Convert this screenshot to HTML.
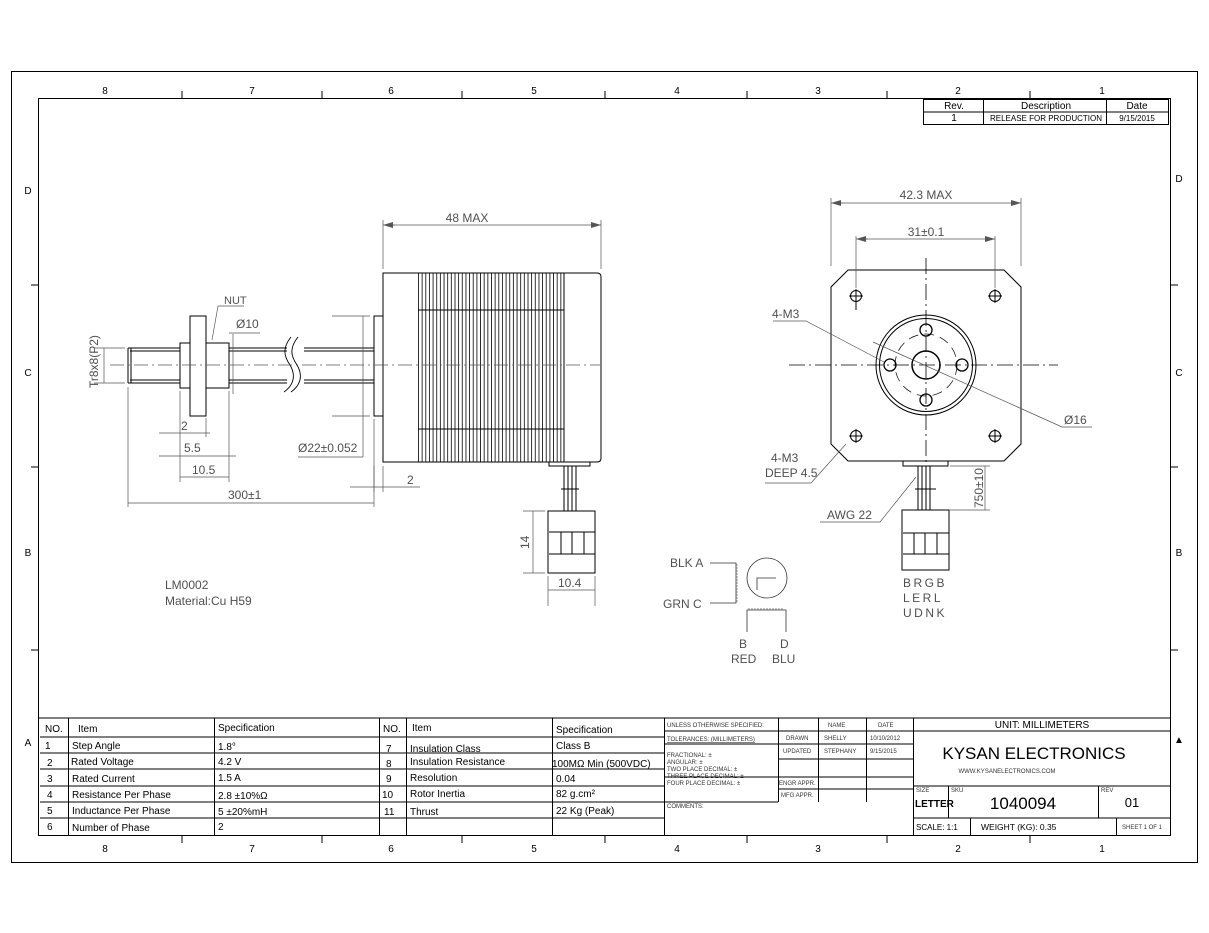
<!DOCTYPE html>
<html><head><meta charset="utf-8"><style>
html,body{margin:0;padding:0;background:#fff;}
svg{display:block;font-family:"Liberation Sans",sans-serif;}
.d{fill:#505050;font-size:12px;}
.t{fill:#000;font-size:10px;}
.s{fill:#333;font-size:6px;}
</style></head><body>
<svg width="1209" height="933" viewBox="0 0 1209 933" xmlns="http://www.w3.org/2000/svg">
<defs>
<pattern id="fin" patternUnits="userSpaceOnUse" width="3.65" height="10" x="418"><line x1="0.5" y1="0" x2="0.5" y2="10" stroke="#000" stroke-width="0.8"/></pattern>
<marker id="ar" markerWidth="10" markerHeight="6" refX="10" refY="3" orient="auto" markerUnits="userSpaceOnUse"><path d="M0,0 L10,3 L0,6z" fill="#555"/></marker>
</defs>
<rect width="1209" height="933" fill="#fff"/>
<g fill="none" stroke="#000">
<rect x="11.5" y="71.5" width="1186" height="791"/>
<rect x="38.5" y="98.5" width="1132" height="737"/>
<g stroke-width="1">
<path d="M182 91V98M322 91V98M462 91V98M605 91V98M747 91V98M887 91V98M1030 91V98"/>
<path d="M182 836V843M322 836V843M462 836V843M605 836V843M747 836V843M887 836V843M1030 836V843"/>
<path d="M31 285H38M31 467H38M31 650H38M1171 285H1178M1171 467H1178M1171 650H1178"/>
</g>
<rect x="923.5" y="99.5" width="245" height="25"/>
<path d="M923 112H1168M983.5 99V124M1106.5 99V124"/>
</g>
<g class="t" text-anchor="middle" font-size="11">
<text x="105" y="94">8</text><text x="252" y="94">7</text><text x="391" y="94">6</text><text x="534" y="94">5</text><text x="677" y="94">4</text><text x="818" y="94">3</text><text x="958" y="94">2</text><text x="1102" y="94">1</text>
<text x="105" y="852">8</text><text x="252" y="852">7</text><text x="391" y="852">6</text><text x="534" y="852">5</text><text x="677" y="852">4</text><text x="818" y="852">3</text><text x="958" y="852">2</text><text x="1102" y="852">1</text>
<text x="28" y="194">D</text><text x="28" y="376">C</text><text x="28" y="556">B</text><text x="28" y="746">A</text>
<text x="1179" y="182">D</text><text x="1179" y="376">C</text><text x="1179" y="556">B</text><text x="1179" y="743">▲</text>
</g>
<g class="t" font-size="8.5" text-anchor="middle" fill="#222">
<text x="954" y="109">Rev.</text><text x="1046" y="109">Description</text><text x="1137" y="109">Date</text>
<text x="954" y="121">1</text><text x="1046" y="121" font-size="8">RELEASE FOR PRODUCTION</text><text x="1137" y="121" font-size="8">9/15/2015</text>
</g>

<!-- SIDE VIEW -->
<g fill="none" stroke="#000" stroke-width="1">
<path d="M383 273H597Q601 273 601 277V458Q601 462 597 462H383Z"/>
<rect x="418" y="273" width="146" height="189" fill="url(#fin)" stroke="none"/>
<path d="M564 273V462M418 310H564M418 429H564"/>
<rect x="374" y="316" width="9" height="100"/>
<path d="M128 348H287M304 348H374M128 383H287M304 383H374M130 351H287M304 351H374M130 380H287M304 380H374M128 348V383M131 348V383"/>
<path d="M291 337C283 347 283 355 290 365C296 375 294 385 284 392M298 337C290 347 290 355 297 365C303 375 301 385 291 392" stroke-width="0.9"/>
<rect x="180" y="343" width="49" height="45" fill="#fff"/>
<rect x="190" y="316" width="16" height="100" fill="#fff"/>
<path d="M549 462H590V466H549Z"/>
<path d="M564 466V511M568 466V511M572 466V511M576 466V511M561 489H579"/>
<rect x="548" y="511" width="47" height="62"/>
<path d="M549 532H595M549 554H595M561 532V554M572 532V554M584 532V554"/>
</g>
<path d="M110 365H600" stroke="#555" stroke-width="0.8" stroke-dasharray="14,4,2,4" fill="none"/>
<g fill="none" stroke="#555" stroke-width="0.7">
<path d="M383 269V220M601 269V220"/>
<line x1="395" y1="225" x2="383" y2="225" marker-end="url(#ar)"/><line x1="390" y1="225" x2="601" y2="225" marker-end="url(#ar)"/>
<path d="M94 348H125M94 383H125M104 348V383"/>
<path d="M229 333H260M233 334V394"/>
<path d="M218 306H244M218 306L212 340"/>
<path d="M180 391V482M206 418V437M229 391V482M128 387V507M374 419V507"/>
<path d="M159 433H210M159 456H236M180 477H229M128 503H374"/>
<path d="M332 316H370M332 416H370M363 316V457M298 457H363"/>
<path d="M374 466V492M383 466V492M350 487H420"/>
<path d="M523 511H545M523 573H545M533 511V573M548 576V606M595 576V606M548 590H595"/>
</g>
<g class="d" font-size="12">
<text x="467" y="222" text-anchor="middle">48 MAX</text>
<text x="224" y="304" font-size="11" fill="#555">NUT</text>
<text x="236" y="328">Ø10</text>
<text transform="translate(98,388) rotate(-90)">Tr8x8(P2)</text>
<text x="181" y="430">2</text>
<text x="184" y="452">5.5</text>
<text x="192" y="474">10.5</text>
<text x="228" y="499">300±1</text>
<text x="298" y="452">Ø22±0.052</text>
<text x="407" y="484">2</text>
<text transform="translate(529,549) rotate(-90)">14</text>
<text x="558" y="587">10.4</text>
<text x="165" y="589">LM0002</text>
<text x="165" y="605">Material:Cu H59</text>
</g>

<!-- FRONT VIEW -->
<g fill="none" stroke="#000" stroke-width="1">
<path d="M848 270H1004L1021 287V444L1004 461H848L831 444V287Z"/>
<circle cx="856" cy="296" r="5.5"/><circle cx="995" cy="296" r="5.5"/><circle cx="856" cy="436" r="5.5"/><circle cx="995" cy="436" r="5.5"/>
<circle cx="926" cy="365" r="50"/><circle cx="926" cy="365" r="46.5"/>
<circle cx="926" cy="365" r="31" stroke-dasharray="10,6" stroke-width="0.7"/>
<circle cx="926" cy="365" r="14" stroke-width="1.5"/>
<circle cx="890" cy="365" r="6" stroke-width="1.3"/><circle cx="962" cy="365" r="6" stroke-width="1.3"/>
<circle cx="926" cy="330" r="6" stroke-width="1.3"/><circle cx="926" cy="400" r="6" stroke-width="1.3"/>
<path d="M849 296H863M856 289V310M988 296H1002M995 289V303M849 436H863M856 429V443M988 436H1002M995 429V443"/>
<path d="M903 461V466H948V461"/>
<path d="M918 466V510M922 466V510M926 466V510M930 466V510M915 489H936"/>
<rect x="902" y="510" width="47" height="60"/>
<path d="M903 533H949M903 554H949M914 533V554M925 533V554M937 533V554"/>
</g>
<g fill="none" stroke="#000" stroke-width="0.8" stroke-dasharray="16,4,2,4">
<path d="M789 365H1058M926 258V472"/>
</g>
<g fill="none" stroke="#555" stroke-width="0.7">
<path d="M831 266V198M1021 266V198M856 288V236M995 288V236"/>
<line x1="843" y1="203" x2="831" y2="203" marker-end="url(#ar)"/><line x1="838" y1="203" x2="1021" y2="203" marker-end="url(#ar)"/>
<line x1="868" y1="239" x2="856" y2="239" marker-end="url(#ar)"/><line x1="862" y1="239" x2="995" y2="239" marker-end="url(#ar)"/>
<path d="M773 321H806L884 362"/>
<path d="M1092 427H1062L873 342"/>
<path d="M765 483H811L846 444"/>
<path d="M820 522H880L916 477"/>
<path d="M950 466H990M950 510H990M985 466V510"/>
</g>
<g class="d" font-size="12">
<text x="926" y="199" text-anchor="middle">42.3 MAX</text>
<text x="926" y="236" text-anchor="middle">31±0.1</text>
<text x="772" y="318">4-M3</text>
<text x="1064" y="424">Ø16</text>
<text x="771" y="462">4-M3</text>
<text x="765" y="477">DEEP 4.5</text>
<text x="827" y="519">AWG 22</text>
<text transform="translate(983,508) rotate(-90)">750±10</text>
<g letter-spacing="2.5"><text x="903" y="587">BRGB</text><text x="903" y="602">LERL</text><text x="903" y="617">UDNK</text></g>
</g>

<!-- schematic -->
<g fill="none" stroke="#333" stroke-width="0.8">
<path d="M710 563H736V603H710"/>
<path d="M736 565h2m-2 3h2m-2 3h2m-2 3h2m-2 3h2m-2 3h2m-2 3h2m-2 3h2m-2 3h2m-2 3h2m-2 3h2m-2 3h2m-2 3h2" stroke-width="0.6"/>
<circle cx="767" cy="578" r="20"/>
<path d="M757 590V578H776"/>
<path d="M747 632V610H786V632"/>
<path d="M749 610v-2m3 2v-2m3 2v-2m3 2v-2m3 2v-2m3 2v-2m3 2v-2m3 2v-2m3 2v-2m3 2v-2m3 2v-2m3 2v-2" stroke-width="0.6"/>
</g>
<g class="d" font-size="12">
<text x="670" y="567">BLK  A</text>
<text x="663" y="608">GRN  C</text>
<text x="739" y="648">B</text><text x="731" y="663">RED</text>
<text x="780" y="648">D</text><text x="772" y="663">BLU</text>
</g>

<!-- BOTTOM TABLE -->
<g fill="none" stroke="#000" stroke-width="1">
<path d="M38 718H1170"/>
<path d="M40 737H664M40 753H664M40 769H664M40 786H664M40 802H664M40 818H664"/>
<path d="M68.5 718V835M214.5 718V835M379.5 718V835M406.5 718V835M552.5 718V835M664.5 718V835"/>
<path d="M664 731H913M664 744H913M778 759H913M664 777H913M778 789H913M664 802H778"/>
<path d="M778.5 718V802M818.5 718V802M866.5 718V802M913.5 718V835"/>
<path d="M913 731H1170M913 786H1170M913 818H1170M948.5 786V818M1098.5 786V818M970.5 818V835M1116.5 818V835"/>
</g>
<g class="t" font-size="10">
<text x="45" y="732">NO.</text><text x="78" y="732">Item</text><text x="218" y="731">Specification</text>
<text x="383" y="732">NO.</text><text x="412" y="731">Item</text><text x="556" y="733">Specification</text>
<text x="45" y="749">1</text><text x="72" y="749">Step Angle</text><text x="218" y="750">1.8°</text>
<text x="47" y="766">2</text><text x="71" y="765">Rated Voltage</text><text x="218" y="765">4.2 V</text>
<text x="47" y="782">3</text><text x="72" y="782">Rated Current</text><text x="218" y="781">1.5 A</text>
<text x="47" y="798">4</text><text x="72" y="798">Resistance Per Phase</text><text x="218" y="799">2.8 ±10%Ω</text>
<text x="47" y="814">5</text><text x="72" y="814">Inductance Per Phase</text><text x="218" y="815">5 ±20%mH</text>
<text x="47" y="830">6</text><text x="72" y="831">Number of Phase</text><text x="218" y="830">2</text>
<text x="386" y="752">7</text><text x="410" y="752">Insulation Class</text><text x="556" y="749">Class B</text>
<text x="386" y="767">8</text><text x="410" y="765">Insulation Resistance</text><text x="552" y="767">100MΩ Min (500VDC)</text>
<text x="386" y="782">9</text><text x="410" y="781">Resolution</text><text x="556" y="782">0.04</text>
<text x="382" y="798">10</text><text x="410" y="797">Rotor Inertia</text><text x="556" y="797">82 g.cm²</text>
<text x="384" y="815">11</text><text x="410" y="815">Thrust</text><text x="556" y="814">22 Kg (Peak)</text>
</g>
<g class="s" fill="#333">
<text x="667" y="727">UNLESS OTHERWISE SPECIFIED:</text>
<text x="667" y="741" text-decoration="underline">TOLERANCES: (MILLIMETERS)</text>
<text x="667" y="757">FRACTIONAL: ±</text><text x="667" y="764">ANGULAR:   ±</text>
<text x="667" y="771">TWO PLACE DECIMAL:   ±</text><text x="667" y="778">THREE PLACE DECIMAL:  ±</text><text x="667" y="785">FOUR PLACE DECIMAL:  ±</text>
<text x="667" y="808">COMMENTS:</text>
<text x="786" y="740">DRAWN</text><text x="783" y="753">UPDATED</text>
<text x="779" y="785">ENGR APPR.</text><text x="781" y="797">MFG APPR.</text>
<text x="828" y="727">NAME</text><text x="878" y="727">DATE</text>
<text x="824" y="740">SHELLY</text><text x="870" y="740">10/10/2012</text>
<text x="824" y="753">STEPHANY</text><text x="870" y="753">9/15/2015</text>
<text x="916" y="792">SIZE</text><text x="951" y="792">SKU</text><text x="1101" y="792">REV</text>
<text x="1122" y="829">SHEET 1 OF 1</text>
<text x="1007" y="773" text-anchor="middle">WWW.KYSANELECTRONICS.COM</text>
</g>
<g class="t">
<text x="1042" y="728" text-anchor="middle" font-size="10">UNIT: MILLIMETERS</text>
<text x="1034" y="759" text-anchor="middle" font-size="17">KYSAN ELECTRONICS</text>
<text x="915" y="807" font-size="10" font-weight="bold">LETTER</text>
<text x="1023" y="809" text-anchor="middle" font-size="17">1040094</text>
<text x="1132" y="807" text-anchor="middle" font-size="13">01</text>
<text x="916" y="830" font-size="8">SCALE:  1:1</text>
<text x="981" y="830" font-size="8.5">WEIGHT (KG):    0.35</text>
</g>
</svg>
</body></html>
